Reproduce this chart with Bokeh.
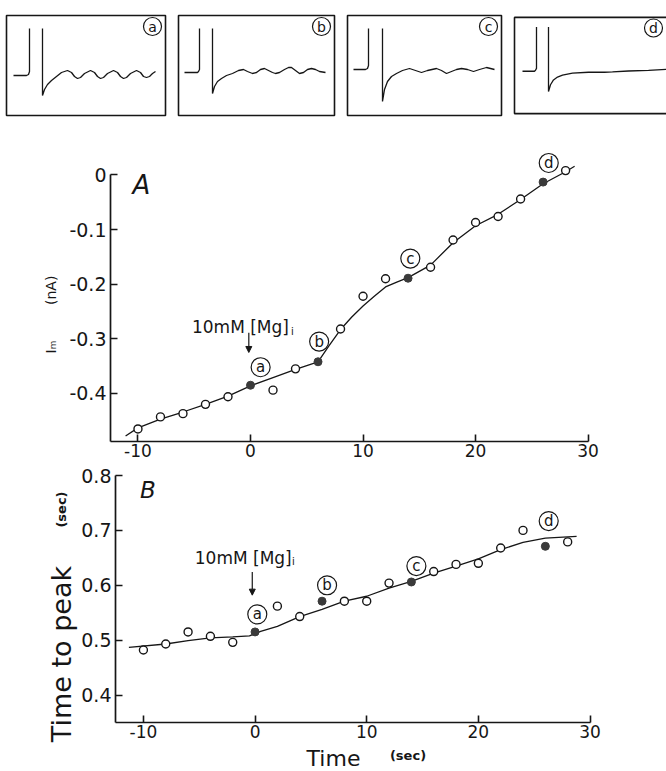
from bokeh.plotting import figure
from bokeh.layouts import column, row
from bokeh.models import Range1d, FixedTicker, Arrow, NormalHead
from bokeh.core.properties import value
from bokeh.embed import file_html
from bokeh.resources import INLINE

FONT = "DejaVu Sans"
INK = "#161616"
NB = "\u00a0"

# ---------------- data ----------------
time_s = [-10, -8, -6, -4, -2, 0, 2, 4, 6, 8, 10, 12, 14, 16, 18, 20, 22, 24, 26, 28]
im_na = [-0.465, -0.443, -0.437, -0.420, -0.406, -0.385, -0.394, -0.355, -0.342, -0.282,
         -0.222, -0.190, -0.189, -0.169, -0.119, -0.087, -0.076, -0.044, -0.013, 0.008]
ttp_s = [0.482, 0.493, 0.515, 0.507, 0.496, 0.515, 0.562, 0.543, 0.571, 0.571,
         0.571, 0.604, 0.606, 0.625, 0.638, 0.640, 0.668, 0.700, 0.671, 0.679]
filled_idx = [5, 8, 12, 18]          # records a, b, c, d
record_letters = ["a", "b", "c", "d"]

fit_a_x = [-11.1, -10, -8, -6, -4, -2, 0, 2, 4, 6, 7, 8, 9, 10, 11, 12, 13, 14, 16, 18, 20, 22, 24, 26, 28, 28.8]
fit_a_y = [-0.478, -0.463, -0.447, -0.434, -0.420, -0.405, -0.386, -0.371, -0.356, -0.342, -0.312,
           -0.283, -0.260, -0.240, -0.222, -0.205, -0.196, -0.188, -0.165, -0.124, -0.093, -0.072,
           -0.045, -0.016, 0.006, 0.016]
fit_b_x = [-11.3, -8, -6, -4, -2, -0.5, 0.5, 2, 4, 6, 8, 10, 12, 14, 16, 18, 20, 22, 24, 26, 28.8]
fit_b_y = [0.487, 0.493, 0.499, 0.504, 0.506, 0.508, 0.516, 0.525, 0.543, 0.556, 0.571, 0.580,
           0.595, 0.607, 0.622, 0.635, 0.648, 0.665, 0.678, 0.686, 0.689]

A_yticks = [-0.4, -0.3, -0.2, -0.1, 0]
A_ylabels = ["-0.4", "-0.3", "-0.2", "-0.1", "0"]
B_yticks = [0.4, 0.5, 0.6, 0.7, 0.8]
B_ylabels = ["0.4", "0.5", "0.6", "0.7", "0.8"]
xticks = [-10, 0, 10, 20, 30]
xlabels = ["-10", "0", "10", "20", "30"]

# inset current records (hand-traced, box-local pixels, y downward)
rec_a_step_x = [7, 20, 22, 23, 23]
rec_a_step_y = [60, 60, 59, 56, 13]
rec_a_x = [36, 36, 38, 41, 45, 50, 55, 61, 65, 68, 71, 74, 78, 84, 88, 91, 94, 97, 101, 107, 111,
           114, 117, 120, 124, 130, 134, 137, 140, 143, 146, 149]
rec_a_y = [13, 80, 74, 69, 65, 61, 57, 55, 57, 61, 63, 62, 58, 55, 57, 61, 63, 62, 58, 55, 57,
           61, 63, 62, 58, 55, 57, 61, 62, 61, 58, 56]
rec_b_step_x = [6, 19, 20, 21, 21]
rec_b_step_y = [57, 57, 56, 54, 13]
rec_b_x = [34, 34, 36, 39, 43, 48, 54, 60, 65, 69, 74, 78, 82, 86, 90, 94, 97, 101, 106, 110, 113,
           117, 121, 125, 129, 133, 137, 141, 147]
rec_b_y = [13, 78, 71, 66, 63, 60, 58, 55, 54, 56, 58, 57, 54, 53, 55, 57, 58, 57, 54, 52, 52,
           55, 58, 57, 54, 53, 54, 56, 57]
rec_c_step_x = [6, 18, 20, 21, 21]
rec_c_step_y = [54, 54, 53, 50, 13]
rec_c_x = [35, 35, 37, 40, 44, 49, 55, 62, 68, 74, 80, 89, 94, 99, 104, 109, 114, 120, 126, 132,
           139, 143, 147]
rec_c_y = [13, 86, 74, 66, 61, 58, 55, 53, 55, 57, 55, 53, 55, 58, 56, 54, 53, 54, 56, 54,
           52, 53, 54]
rec_d_step_x = [8, 20, 21, 22, 22]
rec_d_step_y = [56, 56, 55, 53, 10]
rec_d_x = [34, 34, 36, 39, 43, 48, 58, 74, 90, 98, 114, 134, 152]
rec_d_y = [10, 77, 70, 65, 62, 60, 58, 57, 57, 56.7, 55.7, 55, 54]


def bare(width, height, xr, yr, left=0, right=0, top=0, bottom=0):
    p = figure(width=width, height=height, x_range=xr, y_range=yr,
               x_axis_location=None, y_axis_location=None, toolbar_location=None,
               min_border_left=left, min_border_right=right,
               min_border_top=top, min_border_bottom=bottom, output_backend="svg")
    p.grid.visible = False
    p.background_fill_color = "white"
    p.border_fill_color = "white"
    p.outline_line_color = None
    return p


def txt(p, x, y, text, size, align="center", style="normal"):
    p.text([x], [y], text=[text], text_align=align, text_baseline="middle",
           text_font=value(FONT), text_font_size=size, text_font_style=style, text_color=INK)


def vlabel(width, height, text, size, standoff, top=0, bottom=0, style="normal"):
    """A strip whose only content is a vertical axis title, drawn by a y axis."""
    p = figure(width=width, height=height, x_range=Range1d(0, 1), y_range=Range1d(0, 1),
               x_axis_location=None, y_axis_location="left", toolbar_location=None,
               min_border_left=width - 1, min_border_right=0,
               min_border_top=top, min_border_bottom=bottom, output_backend="svg")
    p.grid.visible = False
    p.outline_line_color = None
    p.background_fill_color = "white"
    p.border_fill_color = "white"
    ax = p.yaxis[0]
    ax.ticker = FixedTicker(ticks=[])
    ax.axis_line_color = None
    ax.major_tick_line_color = None
    ax.minor_tick_line_color = None
    ax.axis_label = text
    ax.axis_label_standoff = standoff
    ax.axis_label_text_font = FONT
    ax.axis_label_text_font_size = size
    ax.axis_label_text_font_style = style
    ax.axis_label_text_color = INK
    return p


# ---------------- insets ----------------
def inset(width, left, right, box_w, step_x, step_y, xs, ys, letter, open_right=False):
    if open_right:
        p = bare(width, 130, Range1d(-2, box_w), Range1d(102, -2), left, right, 13, 13)
        p.line([box_w, 0, 0, box_w], [0, 0, 100, 100], line_color=INK, line_width=1.6)
    else:
        p = bare(width, 130, Range1d(0, box_w), Range1d(100, 0), left, right, 15, 15)
        p.outline_line_color = INK
        p.outline_line_width = 1.6
    p.line(step_x, step_y, line_color=INK, line_width=1.3)
    p.line(xs, ys, line_color=INK, line_width=1.3)
    p.scatter([box_w - 13], [11], marker="circle", size=18, fill_color="white",
              line_color=INK, line_width=1.2)
    txt(p, box_w - 13, 11, letter, "14px")
    return p

ia = inset(172, 6, 7, 159, rec_a_step_x, rec_a_step_y, rec_a_x, rec_a_y, "a")
ib = inset(168, 6, 6, 156, rec_b_step_x, rec_b_step_y, rec_b_x, rec_b_y, "b")
ic = inset(168, 7, 7, 154, rec_c_step_x, rec_c_step_y, rec_c_x, rec_c_y, "c")
idd = inset(158, 4, 0, 152, rec_d_step_x, rec_d_step_y, rec_d_x, rec_d_y, "d", open_right=True)


# ---------------- helpers ----------------
def style_axes(p, yticks, ylabels, xb, yb, xsize, xstand):
    xa, ya = p.xaxis[0], p.yaxis[0]
    for ax in (xa, ya):
        ax.axis_line_width = 1.7
        ax.axis_line_color = INK
        ax.major_tick_line_width = 1.6
        ax.major_tick_line_color = INK
        ax.major_tick_in = 7
        ax.major_tick_out = 0
        ax.minor_tick_line_color = None
        ax.major_label_text_font = FONT
        ax.major_label_text_color = INK
    xa.ticker = FixedTicker(ticks=xticks)
    xa.major_label_overrides = dict(zip(xticks, xlabels))
    xa.major_label_text_font_size = xsize
    xa.major_label_standoff = xstand
    xa.bounds = xb
    ya.ticker = FixedTicker(ticks=yticks)
    ya.major_label_overrides = dict(zip(yticks, ylabels))
    ya.major_label_text_font_size = "19px"
    ya.major_label_standoff = 4
    ya.bounds = yb
    p.grid.visible = False
    p.outline_line_color = None
    p.background_fill_color = "white"
    p.border_fill_color = "white"


def draw_series(p, ys, fx, fy, ldx, ldy):
    p.line(fx, fy, line_color=INK, line_width=1.3)
    ox = [t for i, t in enumerate(time_s) if i not in filled_idx]
    oy = [v for i, v in enumerate(ys) if i not in filled_idx]
    p.scatter(ox, oy, marker="circle", size=8, fill_color="white", line_color=INK, line_width=1.4)
    fxs = [time_s[i] for i in filled_idx]
    fys = [ys[i] for i in filled_idx]
    p.scatter(fxs, fys, marker="circle", size=8, fill_color="#3a3a3a", line_color="#3a3a3a")
    lx = [a + b for a, b in zip(fxs, ldx)]
    ly = [a + b for a, b in zip(fys, ldy)]
    p.scatter(lx, ly, marker="circle", size=19, fill_color="white", line_color=INK, line_width=1.2)
    p.text(lx, ly, text=record_letters, text_align="center", text_baseline="middle",
           text_font=value(FONT), text_font_size="15px", text_color=INK)


# ---------------- panel A (row y 130..463) ----------------
labA = column(vlabel(62, 333, "I\u2098" + NB * 8 + "(nA)", "14px", 3, top=35, bottom=0))

pA = figure(width=604, height=333, x_range=Range1d(-12.44, 31.1), y_range=Range1d(-0.488, 0.054),
            toolbar_location=None, output_backend="svg",
            min_border_left=48, min_border_right=66, min_border_top=15, min_border_bottom=22)
style_axes(pA, A_yticks, A_ylabels, (-12.44, 30), (-0.488, 0), "17px", 2)
draw_series(pA, im_na, fit_a_x, fit_a_y, [0.9, 0.1, 0.2, 0.5], [0.033, 0.037, 0.036, 0.035])
txt(pA, -9.7, -0.018, "A", "26px", style="italic")
txt(pA, -5.2, -0.279, "10mM [Mg]", "17px", align="left")
txt(pA, 3.6, -0.286, "i", "10px", align="left")
pA.add_layout(Arrow(end=NormalHead(size=6, fill_color=INK, line_color=INK), line_color=INK,
                    line_width=1.2, x_start=-0.15, y_start=-0.289, x_end=-0.15, y_end=-0.325))

# ---------------- panel B (row y 463..745) ----------------
secB = vlabel(78, 92, "(sec)", "13px", 9, style="bold")
ttpB = vlabel(78, 190, "Time to peak", "27px", 1, top=7, bottom=0)
labB = column(secB, ttpB)

pB = figure(width=588, height=282, x_range=Range1d(-12.5, 30.94), y_range=Range1d(0.35, 0.8),
            toolbar_location=None, output_backend="svg",
            min_border_left=37, min_border_right=66, min_border_top=12, min_border_bottom=23)
style_axes(pB, B_yticks, B_ylabels, (-12.5, 30), (0.35, 0.8), "17px", 2)
draw_series(pB, ttp_s, fit_b_x, fit_b_y, [0.2, 0.45, 0.45, 0.3], [0.032, 0.029, 0.029, 0.046])
txt(pB, -9.6, 0.773, "B", "23px", style="italic")
txt(pB, -5.4, 0.649, "10mM [Mg]", "17px", align="left")
txt(pB, 3.3, 0.644, "i", "10px", align="left")
pB.add_layout(Arrow(end=NormalHead(size=6, fill_color=INK, line_color=INK), line_color=INK,
                    line_width=1.2, x_start=-0.25, y_start=0.624, x_end=-0.25, y_end=0.582))

# ---------------- x title strip (y 745..771) ----------------
labX = bare(666, 26, Range1d(0, 666), Range1d(0, 26))
txt(labX, 333, 13, "Time", "22px")
txt(labX, 407.5, 16, "(sec)", "13px", style="bold")

layout = column(row(ia, ib, ic, idd), row(labA, pA), row(labB, pB), labX)
open("out.html", "w").write(file_html(layout, INLINE))
